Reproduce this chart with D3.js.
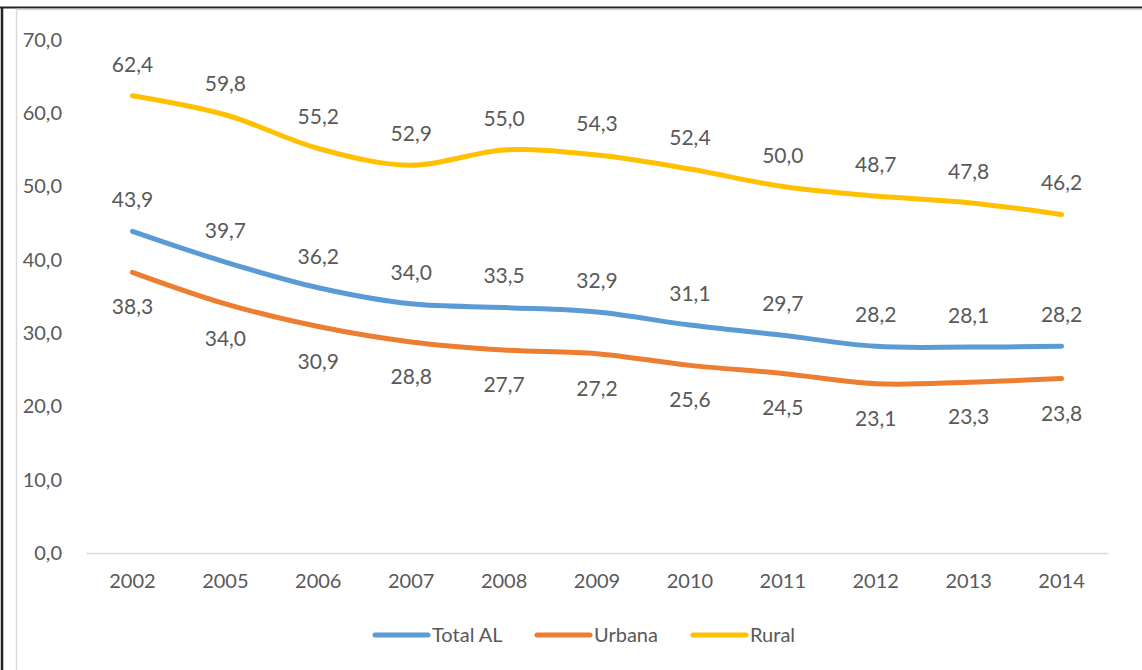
<!DOCTYPE html>
<html>
<head>
<meta charset="utf-8">
<script src="https://cdn.jsdelivr.net/npm/d3@7"></script>
<style>
	body { margin: 0; background: #fff; }
	text { font-family: Lato, 'Open Sans', sans-serif; fill: #595959; }
</style>
</head>
<body>
<div id="chart"></div>
<script>
const years = [ '2002', '2005', '2006', '2007', '2008', '2009', '2010', '2011', '2012', '2013', '2014' ];
const totalAL = [ 43.9, 39.7, 36.2, 34.0, 33.5, 32.9, 31.1, 29.7, 28.2, 28.1, 28.2 ];
const urbana = [ 38.3, 34.0, 30.9, 28.8, 27.7, 27.2, 25.6, 24.5, 23.1, 23.3, 23.8 ];
const rural = [ 62.4, 59.8, 55.2, 52.9, 55.0, 54.3, 52.4, 50.0, 48.7, 47.8, 46.2 ];
const yTicks = [ 0, 10, 20, 30, 40, 50, 60, 70 ];

const series = [
	{ name: 'Total AL', values: totalAL, color: '#5b9bd5', labelDy: -24 },
	{ name: 'Urbana', values: urbana, color: '#ed7d31', labelDy: 42 },
	{ name: 'Rural', values: rural, color: '#ffc000', labelDy: -24 }
];

let dimensions = {
	width  : 1142,
	height : 670,
	margin : {
		top    : 40,
		right  : 34,
		bottom : 117,
		left   : 86
	}
};
dimensions.boundedWidth = dimensions.width - dimensions.margin.left - dimensions.margin.right;
dimensions.boundedHeight = dimensions.height - dimensions.margin.top - dimensions.margin.bottom;

const svg = d3.select('#chart').append('svg').attr('width', dimensions.width).attr('height', dimensions.height);

// outer frame
svg.append('line').attr('x1', 0).attr('x2', dimensions.width).attr('y1', 7.5).attr('y2', 7.5)
	.attr('stroke', '#222').attr('stroke-width', 2);
svg.append('line').attr('x1', 2).attr('x2', 2).attr('y1', 7).attr('y2', dimensions.height)
	.attr('stroke', '#222').attr('stroke-width', 2.5);
// inner chart area border
svg.append('line').attr('x1', 16).attr('x2', dimensions.width).attr('y1', 9.5).attr('y2', 9.5)
	.attr('stroke', '#d9d9d9').attr('stroke-width', 1.5);
svg.append('line').attr('x1', 16.5).attr('x2', 16.5).attr('y1', 9).attr('y2', dimensions.height)
	.attr('stroke', '#d9d9d9').attr('stroke-width', 1.5);

const bounds = svg.append('g').attr('transform', `translate(${dimensions.margin.left}, ${dimensions.margin.top})`);

const x = d3.scaleBand().domain(years).range([ 0, dimensions.boundedWidth ]);
const y = d3.scaleLinear().domain([ 0, 70 ]).range([ dimensions.boundedHeight, 0 ]);

const fmt = (v) => d3.format('.1f')(v).replace('.', ',');

// y axis
const yAxis = bounds.append('g').call(d3.axisLeft(y).tickValues(yTicks).tickFormat(fmt).tickSize(0).tickPadding(24));
yAxis.select('.domain').remove();
yAxis.selectAll('text').style('font-size', '20px').attr('fill', '#595959').style('font-family', 'Lato, sans-serif');

// x axis
const xAxis = bounds.append('g').attr('transform', `translate(0, ${dimensions.boundedHeight})`)
	.call(d3.axisBottom(x).tickSize(0).tickPadding(21));
xAxis.select('.domain').attr('stroke', '#d9d9d9').attr('stroke-width', 1.5);
xAxis.selectAll('text').style('font-size', '20px').attr('fill', '#595959').style('font-family', 'Lato, sans-serif');

const line = d3.line()
	.x((d, i) => x(years[i]) + x.bandwidth() / 2)
	.y((d) => y(d))
	.curve(d3.curveCatmullRom.alpha(0.5));

series.forEach(function(s) {
	bounds.append('path')
		.datum(s.values)
		.attr('fill', 'none')
		.attr('stroke', s.color)
		.attr('stroke-width', 5)
		.attr('stroke-linecap', 'round')
		.attr('d', line);

	bounds.selectAll(null)
		.data(s.values)
		.enter()
		.append('text')
		.attr('x', (d, i) => x(years[i]) + x.bandwidth() / 2)
		.attr('y', (d) => y(d) + s.labelDy)
		.attr('text-anchor', 'middle')
		.style('font-size', '21px')
		.text(fmt);
});

// legend
const legendX = [ 373, 535, 691 ];
const legend = svg.append('g').attr('transform', 'translate(0, 635)');
series.forEach(function(s, i) {
	legend.append('line')
		.attr('x1', legendX[i] + 2).attr('x2', legendX[i] + 55)
		.attr('y1', 0).attr('y2', 0)
		.attr('stroke', s.color).attr('stroke-width', 5).attr('stroke-linecap', 'round');
	legend.append('text')
		.attr('x', legendX[i] + 59).attr('y', 0).attr('dy', '0.35em')
		.style('font-size', '20px')
		.text(s.name);
});
</script>
</body>
</html>
